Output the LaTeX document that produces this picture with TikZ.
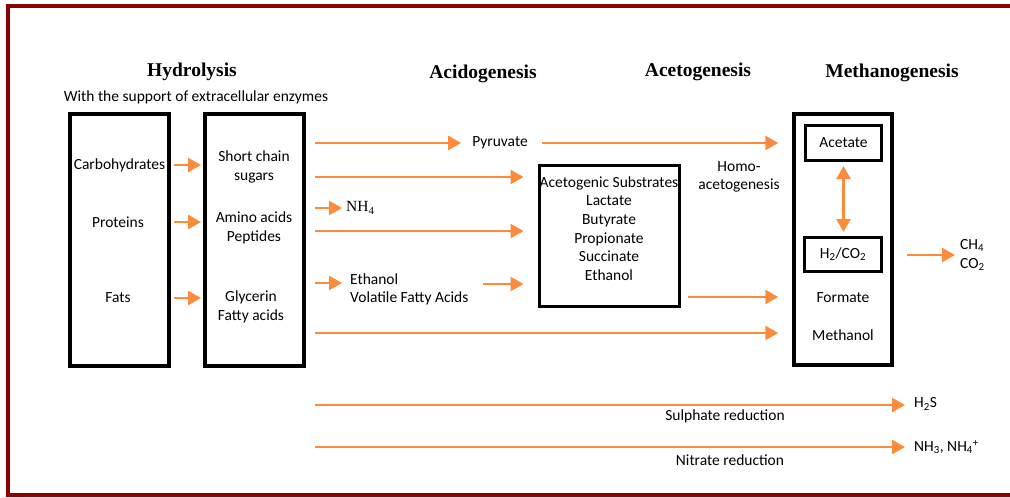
\documentclass[tikz,border=0pt]{standalone}
\usepackage{fontspec}
\setmainfont{Carlito}
\newfontfamily\headfont{Liberation Serif}
\usetikzlibrary{arrows.meta}
\definecolor{orng}{RGB}{252,140,60}
\definecolor{frm}{RGB}{140,0,0}
\begin{document}
\begin{tikzpicture}[x=1pt,y=-1pt,
  txt/.style={font=\fontsize{15.5}{18.7}\selectfont, inner sep=0pt, align=center},
  head/.style={font=\headfont\bfseries\fontsize{19.5}{22}\selectfont, inner sep=0pt},
  bigbox/.style={draw, line width=3.5pt, inner sep=0pt},
  smallbox/.style={draw, line width=3pt, inner sep=0pt},
  arr/.style={draw=orng, line width=2.5pt, -{Triangle[length=13pt,width=14pt]}},
  darr/.style={draw=orng, line width=2.5pt, {Triangle[length=13pt,width=14pt]}-{Triangle[length=13pt,width=14pt]}}]

\useasboundingbox (0,0) rectangle (1010,498);
\draw[frm, line width=4pt] (8,6) rectangle (1040,495);

% headings
\node[head] (hyd) at (192,72) {Hydrolysis};
\node[head] (acid) at (483,74) {Acidogenesis};
\node[head] (acetg) at (698,72) {Acetogenesis};
\node[head] (meth) at (892,73) {Methanogenesis};
\node[txt] (supp) at (196,97) {With the support of extracellular enzymes};

% boxes
\node[bigbox, minimum width=99pt, minimum height=252pt] (b1) at (119.5,240) {};
\node[bigbox, minimum width=99pt, minimum height=252pt] (b2) at (254.5,240) {};
\node[smallbox, minimum width=140pt, minimum height=141pt] (acet) at (609,235.5) {};
\node[bigbox, minimum width=98pt, minimum height=251pt] (mbox) at (843,239.5) {};
\node[smallbox, minimum width=76pt, minimum height=35pt, txt] (acetate) at (843.5,143) {Acetate};
\node[smallbox, minimum width=77pt, minimum height=34pt, txt] (h2) at (843,254.5) {H\textsubscript{2}/CO\textsubscript{2}};

% texts in boxes
\node[txt] (carb) at (119.5,165) {Carbohydrates};
\node[txt] (prot) at (118,222) {Proteins};
\node[txt] (fats) at (118,298) {Fats};
\node[txt] (sug) at (254,167) {Short chain\\sugars};
\node[txt] (amino) at (254,228) {Amino acids\\Peptides};
\node[txt] (glyc) at (251,307) {Glycerin\\Fatty acids};
\node[txt] (subs) at (609,228.5) {Acetogenic Substrates\\Lactate\\Butyrate\\Propionate\\Succinate\\Ethanol};
\node[txt] (form) at (843,298) {Formate};
\node[txt] (methl) at (843,335) {Methanol};

% other texts
\node[txt] (pyr) at (500,143) {Pyruvate};
\node[inner sep=0pt, anchor=west, font=\headfont\fontsize{15.5}{18}\selectfont] (nh4) at (346,208) {NH\textsubscript{4}};
\node[txt, align=left, anchor=west] (eth) at (350,289.5) {Ethanol\\Volatile Fatty Acids};
\node[txt] (homo) at (739,177) {Homo-\\acetogenesis};
\node[txt, align=left, anchor=west] (ch4) at (960,255) {CH\textsubscript{4}\\CO\textsubscript{2}};
\node[txt, anchor=west] (h2s) at (914,404) {H\textsubscript{2}S};
\node[txt, anchor=west] (nh3) at (914,447) {NH\textsubscript{3}, NH\textsubscript{4}\textsuperscript{+}};
\node[txt] (sulph) at (725,416) {Sulphate reduction};
\node[txt] (nitr) at (730,460) {Nitrate reduction};

% start coordinates
\coordinate (s1) at (315,143);
\coordinate (s2) at (315,177);
\coordinate (s3) at (315,208);
\coordinate (s4) at (315,231);
\coordinate (s5) at (315,283);
\coordinate (e2) at (483,284);
\coordinate (a2) at (688,297);
\coordinate (s6) at (315,333);
\coordinate (s7) at (315,405);
\coordinate (s8) at (315,447);
\coordinate (c1) at (907,255);

% arrows between hydrolysis boxes
\draw[arr] (174,165) -- (201,165);
\draw[arr] (174,222) -- (201,222);
\draw[arr] (174,298) -- (201,298);

% arrows
\draw[arr, shorten >=11pt] (s1) -- (pyr.west);
\draw[arr, shorten <=14pt, shorten >=14pt] (pyr.east) -- (mbox.west |- pyr);
\draw[arr, shorten >=14pt] (s2) -- (acet.west |- s2);
\draw[arr, shorten >=4pt] (s3) -- (nh4.west |- s3);
\draw[arr, shorten >=14pt] (s4) -- (acet.west |- s4);
\draw[arr] (s5) -- (342,283);
\draw[arr, shorten >=14pt] (e2) -- (acet.west |- e2);
\draw[arr, shorten >=14pt] (a2) -- (mbox.west |- a2);
\draw[arr, shorten >=14pt] (s6) -- (mbox.west |- s6);
\draw[darr, shorten <=4pt, shorten >=4pt] (acetate.south) -- (acetate.south |- h2.north);
\draw[arr, shorten >=5pt] (c1) -- (ch4.west);
\draw[arr, shorten >=9pt] (s7) -- (h2s.west |- s7);
\draw[arr, shorten >=9pt] (s8) -- (nh3.west |- s8);
\end{tikzpicture}
\end{document}
